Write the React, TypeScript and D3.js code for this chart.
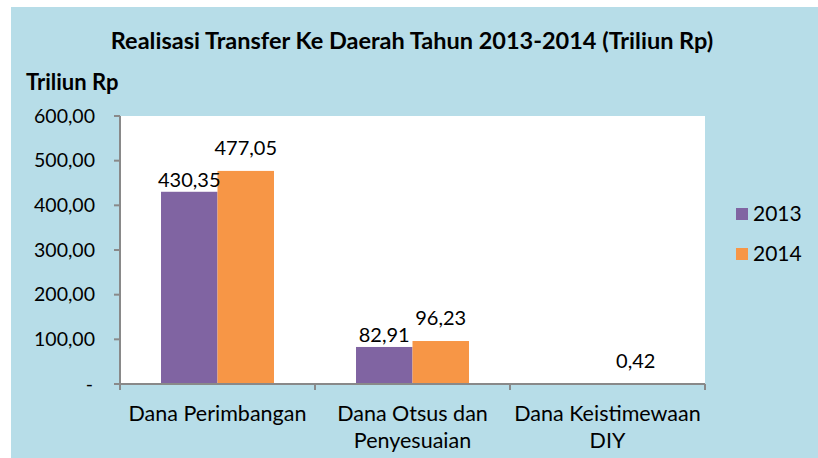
import React from "react";
import * as d3 from "d3";

const categories: string[][] = [
  ["Dana Perimbangan"],
  ["Dana Otsus dan", "Penyesuaian"],
  ["Dana Keistimewaan", "DIY"],
];
const seriesNames = ["2013", "2014"];
const values2013: (number | null)[] = [430.35, 82.91, null];
const values2014: (number | null)[] = [477.05, 96.23, 0.42];
const yTicks = [0, 100, 200, 300, 400, 500, 600];
const title = "Realisasi Transfer Ke Daerah Tahun 2013-2014 (Triliun Rp)";
const yTitle = "Triliun Rp";

const W = 818;
const H = 458;
const FONT = "Lato, 'Open Sans', sans-serif";
const colors = ["#8064a2", "#f79646"];
const labelOffsets = [5, 16];

export default function App() {
  const left = 120, right = 705, top = 116, bottom = 384;
  const y = d3.scaleLinear().domain([0, 600]).range([bottom, top]);
  const x0 = d3.scaleBand<number>().domain(categories.map((_, i) => i)).range([left, right]).paddingInner(0).paddingOuter(0);
  const x1 = d3.scaleBand<string>().domain(seriesNames).range([0, x0.bandwidth()]).paddingInner(0).paddingOuter(0.726);
  const series = [values2013, values2014];
  const fmt = (v: number) => (v === 0 ? "-" : d3.format(".2f")(v).replace(".", ","));
  const axisColor = "#898989";
  const boundaries = [...categories.map((_, i) => x0(i) as number), right];

  return (
    <svg width={W} height={H} style={{ position: "absolute", left: 0, top: 0, display: "block" }}>
      <rect x={0} y={0} width={W} height={H} fill="#ffffff" />
      <rect x={11} y={7} width={W - 11} height={H - 7} fill="#b7dde8" />
      <text x={412} y={49} textAnchor="middle" fontFamily={FONT} fontWeight="bold" fontSize={23.5} fill="#000">{title}</text>
      <text x={26} y={90} fontFamily={FONT} fontWeight="bold" fontSize={22} fill="#000">{yTitle}</text>
      <rect x={left} y={top} width={right - left} height={bottom - top} fill="#ffffff" />
      {series.map((vals, si) =>
        vals.map((v, ci) =>
          v == null ? null : (
            <rect key={`b${si}-${ci}`} x={(x0(ci) as number) + (x1(seriesNames[si]) as number)} y={y(v)} width={x1.bandwidth()} height={bottom - y(v)} fill={colors[si]} />
          )
        )
      )}
      {series.map((vals, si) =>
        vals.map((v, ci) =>
          v == null ? null : (
            <text key={`l${si}-${ci}`} x={(x0(ci) as number) + (x1(seriesNames[si]) as number) + x1.bandwidth() / 2} y={y(v) - labelOffsets[si]} textAnchor="middle" fontFamily={FONT} fontSize={20} fill="#000">{fmt(v)}</text>
          )
        )
      )}
      <line x1={left} x2={left} y1={top} y2={bottom} stroke={axisColor} strokeWidth={2} />
      <line x1={left - 6} x2={right} y1={bottom} y2={bottom} stroke={axisColor} strokeWidth={2} />
      {yTicks.map((t) => (
        <g key={`t${t}`}>
          <line x1={left - 6} x2={left} y1={y(t)} y2={y(t)} stroke={axisColor} strokeWidth={2} />
          <text x={t === 0 ? 93 : 95} y={y(t)} dy="0.35em" textAnchor="end" fontFamily={FONT} fontSize={19.5} fill="#000">{fmt(t)}</text>
        </g>
      ))}
      {boundaries.map((b, i) => (
        <line key={`c${i}`} x1={b} x2={b} y1={bottom} y2={bottom + 6} stroke={axisColor} strokeWidth={2} />
      ))}
      {categories.map((lines, ci) =>
        lines.map((ln, li) => (
          <text key={`cl${ci}-${li}`} x={(x0(ci) as number) + x0.bandwidth() / 2} y={421 + li * 27} textAnchor="middle" fontFamily={FONT} fontSize={21.5} fill="#000">{ln}</text>
        ))
      )}
      {seriesNames.map((s, si) => (
        <g key={`lg${s}`}>
          <rect x={736} y={208 + si * 40} width={12} height={12} fill={colors[si]} />
          <text x={753} y={221 + si * 40} fontFamily={FONT} fontSize={21} fill="#000">{s}</text>
        </g>
      ))}
    </svg>
  );
}
